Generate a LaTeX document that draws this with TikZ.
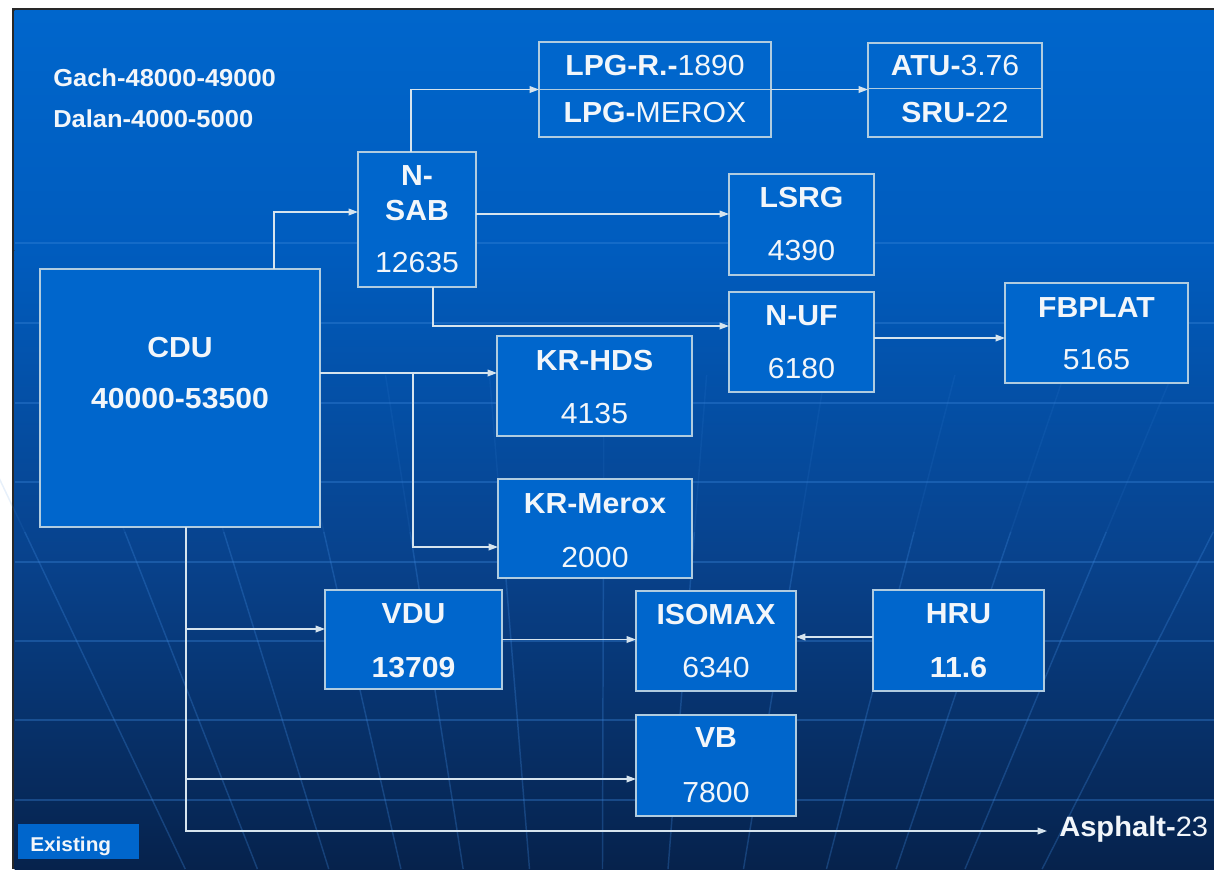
\documentclass[tikz,border=0pt]{standalone}
\usepackage{fontspec}
\setmainfont[FakeStretch=1.04]{Liberation Sans}
\usetikzlibrary{calc,arrows.meta}
\definecolor{bgtop}{RGB}{0,102,204}
\definecolor{bgup}{RGB}{0,92,190}
\definecolor{bgmid}{RGB}{8,66,140}
\definecolor{bgbot}{RGB}{6,34,76}
\definecolor{boxfill}{RGB}{0,102,204}
\definecolor{boxedge}{RGB}{176,204,224}
\definecolor{wirec}{RGB}{214,228,238}
\definecolor{txt}{RGB}{242,246,250}
\definecolor{gridc}{RGB}{60,135,220}
\definecolor{framec}{RGB}{40,40,40}
\begin{document}
\begin{tikzpicture}[x=0.75pt,y=-0.75pt,
  unitbox/.style 2 args={draw=boxedge, line width=1.3pt, fill=boxfill, inner sep=0pt, outer sep=0pt,
     minimum width=#1*0.75pt, minimum height=#2*0.75pt},
  lbl/.style={text=txt, font=\fontsize{21.75}{26}\selectfont, anchor=base, inner sep=0pt},
  blbl/.style={lbl, font=\bfseries\fontsize{21.75}{26}\selectfont},
  note/.style={text=txt, font=\bfseries\fontsize{18.4}{22}\selectfont, anchor=base west, inner sep=0pt},
  wire/.style={draw=wirec, line width=1pt},
  arr/.style={wire, -{Triangle[length=7pt,width=5pt]}},
  hgrid/.style={draw=gridc, line width=1.5pt, opacity=0.35},
  mgrid/.style={draw=gridc, line width=1.1pt, opacity=0.3},
  mgridfaint/.style={draw=gridc, line width=1.1pt, opacity=0.12}]
\useasboundingbox (0,0) rectangle (1214,869);
\clip (0,0) rectangle (1214,869);
% background
\fill[white] (0,0) rectangle (1214,869);
\fill[framec] (12,8) rectangle (1214,869);
\shade[top color=bgtop, bottom color=bgup] (14.5,10.5) rectangle (1214,250.5);
\shade[top color=bgup, bottom color=bgbot, middle color=bgmid] (14.5,250) rectangle (1214,869);
% globe grid
\foreach \yy in {243,323,403,482,562,641,720,800}
  \draw[hgrid] (14.5,\yy) -- (1214,\yy);
\foreach \xx in {100,187,273,360,435,515,603,682,773,873,957,1040,1133}{
  \draw[mgrid] ($(600,1740)!0.8295!(\xx,690)$) -- ($(600,1740)!1.1505!(\xx,690)$);
  \draw[mgridfaint] ($(600,1740)!1.1505!(\xx,690)$) -- ($(600,1740)!1.3!(\xx,690)$);
}
% boxes
\node[unitbox={280}{258}] (cdu) at (180,398) {};
\node[unitbox={118}{135}] (nsab) at (417,219.5) {};
\node[unitbox={232}{95}] (lpg) at (655,89.5) {};
\node[unitbox={174}{94}] (atu) at (955,90) {};
\node[unitbox={145}{101}] (lsrg) at (801.5,224.5) {};
\node[unitbox={145}{100}] (nuf) at (801.5,342) {};
\node[unitbox={183}{100}] (fbplat) at (1096.5,333) {};
\node[unitbox={195}{100}] (krhds) at (594.5,386) {};
\node[unitbox={194}{99}] (krmerox) at (595,528.5) {};
\node[unitbox={177}{99}] (vdu) at (413.5,639.5) {};
\node[unitbox={160}{100}] (isomax) at (716,641) {};
\node[unitbox={171}{101}] (hru) at (958.5,640.5) {};
\node[unitbox={160}{101}] (vb) at (716,765.5) {};
\node[fill=boxfill, inner sep=0pt, minimum width=121*0.75pt, minimum height=35*0.75pt] (existing) at (78.5,841.5) {};
% dividers
\draw[draw=boxedge, line width=1.3pt] (lpg.west) -- (lpg.east);
\draw[draw=boxedge, line width=1.3pt] ($(atu.west)+(0,-1.5)$) -- ($(atu.east)+(0,-1.5)$);
% labels
\node[note] (gach) at (53,86) {Gach-48000-49000};
\node[note] (dalan) at (53,127) {Dalan-4000-5000};
\node[blbl] (cdu1) at (180,357) {CDU};
\node[blbl] (cdu2) at (180,408) {40000-53500};
\node[blbl] (nsab1) at (417,185) {N-};
\node[blbl] (nsab2) at (417,220) {SAB};
\node[lbl] (nsab3) at (417,272) {12635};
\node[lbl] (lpg1) at (655,75) {\textbf{LPG-R.-}1890};
\node[lbl] (lpg2) at (655,122) {\textbf{LPG-}MEROX};
\node[lbl] (atu1) at (955,75) {\textbf{ATU-}3.76};
\node[lbl] (atu2) at (955,122) {\textbf{SRU-}22};
\node[blbl] (lsrg1) at (801.5,207) {LSRG};
\node[lbl] (lsrg2) at (801.5,260) {4390};
\node[blbl] (nuf1) at (801.5,325) {N-UF};
\node[lbl] (nuf2) at (801.5,378) {6180};
\node[blbl] (fb1) at (1096.5,317) {FBPLAT};
\node[lbl] (fb2) at (1096.5,369) {5165};
\node[blbl] (kh1) at (594.5,370) {KR-HDS};
\node[lbl] (kh2) at (594.5,423) {4135};
\node[blbl] (km1) at (595,513) {KR-Merox};
\node[lbl] (km2) at (595,567) {2000};
\node[blbl] (vdu1) at (413.5,623) {VDU};
\node[blbl] (vdu2) at (413.5,677) {13709};
\node[blbl] (iso1) at (716,624) {ISOMAX};
\node[lbl] (iso2) at (716,677) {6340};
\node[blbl] (hru1) at (958.5,623) {HRU};
\node[blbl] (hru2) at (958.5,677) {11.6};
\node[blbl] (vb1) at (716,747) {VB};
\node[lbl] (vb2) at (716,802) {7800};
\node[text=txt, font=\bfseries\fontsize{15}{18}\selectfont, anchor=base west, inner sep=0pt] (existingt) at (30,851) {Existing};
\node[lbl, anchor=base west, font=\fontsize{21}{25}\selectfont] (asphalt) at (1059,836) {\textbf{Asphalt-}23};
% connectors
\draw[arr] ($(cdu.north west)+(234,0)$) |- ($(nsab.west)+(0,-7.5)$);
\draw[arr] ($(nsab.north)+(-6,0)$) |- (lpg.west);
\draw[arr] (lpg.east) -- (lpg.east -| atu.west);
\coordinate (nsabr) at ($(nsab.east)+(0,-5.5)$);
\draw[arr] (nsabr) -- (nsabr -| lsrg.west);
\draw[arr] ($(nsab.south)+(16,0)$) |- ($(nuf.west)+(0,-16)$);
\coordinate (nufr) at ($(nuf.east)+(0,-4)$);
\draw[arr] (nufr) -- (nufr -| fbplat.west);
\coordinate (cdur) at ($(cdu.east)+(0,-25)$);
\coordinate (j1) at ($(cdu.east)+(93,-25)$);
\draw[arr] (cdur) -- (cdur -| krhds.west);
\draw[arr] (j1) |- ($(krmerox.west)+(0,18.5)$);
\coordinate (trunk) at ($(cdu.south)+(6,0)$);
\coordinate (vduin) at ($(vdu.west)+(0,-10.5)$);
\coordinate (vbin) at ($(vb.west)+(0,13.5)$);
\coordinate (asin) at ($(asphalt.base west)+(-12,-5)$);
\draw[arr] (trunk) |- (asin);
\draw[arr] (trunk |- vduin) -- (vduin);
\draw[arr] (trunk |- vbin) -- (vbin);
\draw[arr] (vdu.east) -- (vdu.east -| isomax.west);
\coordinate (hrul) at ($(hru.west)+(0,-3.5)$);
\draw[arr] (hrul) -- (hrul -| isomax.east);
\end{tikzpicture}
\end{document}
